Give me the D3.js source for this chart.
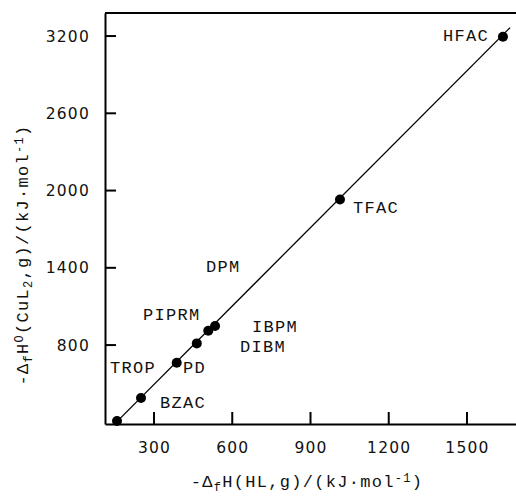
<!DOCTYPE html>
<html>
<head>
<meta charset="utf-8">
<script src="https://cdn.jsdelivr.net/npm/d3@7"></script>
<style>
  body { margin: 0; background: #fff; }
  svg { display: block; }
</style>
</head>
<body>
<div class="chart"></div>
<script>
// Data
const hlValues = [158, 250, 387, 464, 508, 534, 1013, 1638];
const cuValues = [210, 389, 663, 813, 911, 948, 1930, 3195];

// labels placed in the chart (name, x value, y value)
const labelNames = ["HFAC", "TFAC", "DPM", "PIPRM", "IBPM", "DIBM", "TROP", "PD", "BZAC"];
const labelX = [1408, 1063, 499, 258, 676, 630, 131, 411, 323];
const labelY = [3161, 1826, 1367, 995, 902, 746, 583, 583, 311];

// fitted straight line (end points)
const fitX = [150, 1665];
const fitY = [190, 3265];

const xTicks = [300, 600, 900, 1200, 1500];
const yTicks = [800, 1400, 2000, 2600, 3200];

const width = 516, height = 496;
const plot = { left: 105, right: 516, top: 13, bottom: 424 };

const svg = d3.select(".chart")
  .append("svg")
  .attr("width", width)
  .attr("height", height);

// scales
const x = d3.scaleLinear()
  .domain([112, 1688])
  .range([plot.left, plot.right]);

const y = d3.scaleLinear()
  .domain([187, 3379])
  .range([plot.bottom, plot.top]);

const tickFont = "DejaVu Sans, sans-serif";
const monoFont = "Liberation Mono, Courier New, monospace";

// X axis
const xAxis = svg.append("g")
  .attr("transform", `translate(0,${plot.bottom})`)
  .call(d3.axisBottom(x).tickValues(xTicks).tickFormat(d3.format("d"))
    .tickSize(0).tickPadding(18));
xAxis.select(".domain").attr("stroke-width", 2);
xAxis.selectAll(".tick text")
  .attr("font-family", tickFont)
  .attr("font-size", 15.5)
  .attr("letter-spacing", 1.2)
  .attr("fill", "#111");

// Y axis
const yAxis = svg.append("g")
  .attr("transform", `translate(${plot.left},0)`)
  .call(d3.axisLeft(y).tickValues(yTicks).tickFormat(d3.format("d"))
    .tickSize(0).tickPadding(15));
yAxis.select(".domain").attr("stroke-width", 2);
yAxis.selectAll(".tick text")
  .attr("font-family", tickFont)
  .attr("font-size", 15.5)
  .attr("letter-spacing", 1.2)
  .attr("fill", "#111");

// inward tick marks, drawn as paths
svg.append("g")
  .selectAll("path")
  .data(xTicks)
  .enter()
  .append("path")
  .attr("d", d => `M${x(d)},${plot.bottom}V${plot.bottom - 12}`)
  .attr("fill", "none")
  .attr("stroke", "#000")
  .attr("stroke-width", 2);

svg.append("g")
  .selectAll("path")
  .data(yTicks)
  .enter()
  .append("path")
  .attr("d", d => `M${plot.left},${y(d)}H${plot.left + 11}`)
  .attr("fill", "none")
  .attr("stroke", "#000")
  .attr("stroke-width", 2);

// top border
svg.append("line")
  .attr("x1", plot.left).attr("x2", plot.right)
  .attr("y1", plot.top).attr("y2", plot.top)
  .attr("stroke", "#000")
  .attr("stroke-width", 2);

// fitted line
svg.append("line")
  .attr("x1", x(fitX[0])).attr("y1", y(fitY[0]))
  .attr("x2", x(fitX[1])).attr("y2", y(fitY[1]))
  .attr("stroke", "#000")
  .attr("stroke-width", 1.3);

// points
svg.append("g")
  .selectAll("circle")
  .data(hlValues)
  .enter()
  .append("circle")
  .attr("cx", d => x(d))
  .attr("cy", (d, i) => y(cuValues[i]))
  .attr("r", 5)
  .attr("fill", "#000");

// compound labels
svg.append("g")
  .selectAll("text")
  .data(labelNames)
  .enter()
  .append("text")
  .attr("x", (d, i) => x(labelX[i]))
  .attr("y", (d, i) => y(labelY[i]))
  .attr("font-family", monoFont)
  .attr("font-size", 17)
  .attr("letter-spacing", 1.3)
  .attr("fill", "#111")
  .text(d => d);

// helper to write text with sub/superscripts
function richText(sel, parts) {
  parts.forEach(p => {
    const t = sel.append("tspan").text(p.t);
    if (p.sub) t.attr("baseline-shift", "-30%").attr("font-size", 12);
    if (p.sup) t.attr("baseline-shift", "45%").attr("font-size", 12);
  });
}

// X axis label
const xLabel = svg.append("text")
  .attr("x", 307)
  .attr("y", 487)
  .attr("text-anchor", "middle")
  .attr("font-family", monoFont)
  .attr("font-size", 17)
  .attr("letter-spacing", 1.3)
  .attr("fill", "#111");
richText(xLabel, [
  { t: "-\u0394" }, { t: "f", sub: true }, { t: "H(HL,g)/(kJ\u00b7mol" },
  { t: "-1", sup: true }, { t: ")" }
]);

// Y axis label
const yLabel = svg.append("text")
  .attr("transform", "translate(28,255) rotate(-90)")
  .attr("text-anchor", "middle")
  .attr("font-family", monoFont)
  .attr("font-size", 17)
  .attr("letter-spacing", 1.3)
  .attr("fill", "#111");
richText(yLabel, [
  { t: "-\u0394" }, { t: "f", sub: true }, { t: "H" }, { t: "O", sup: true },
  { t: "(CuL" }, { t: "2", sub: true }, { t: ",g)/(kJ\u00b7mol" },
  { t: "-1", sup: true }, { t: ")" }
]);
</script>
</body>
</html>
